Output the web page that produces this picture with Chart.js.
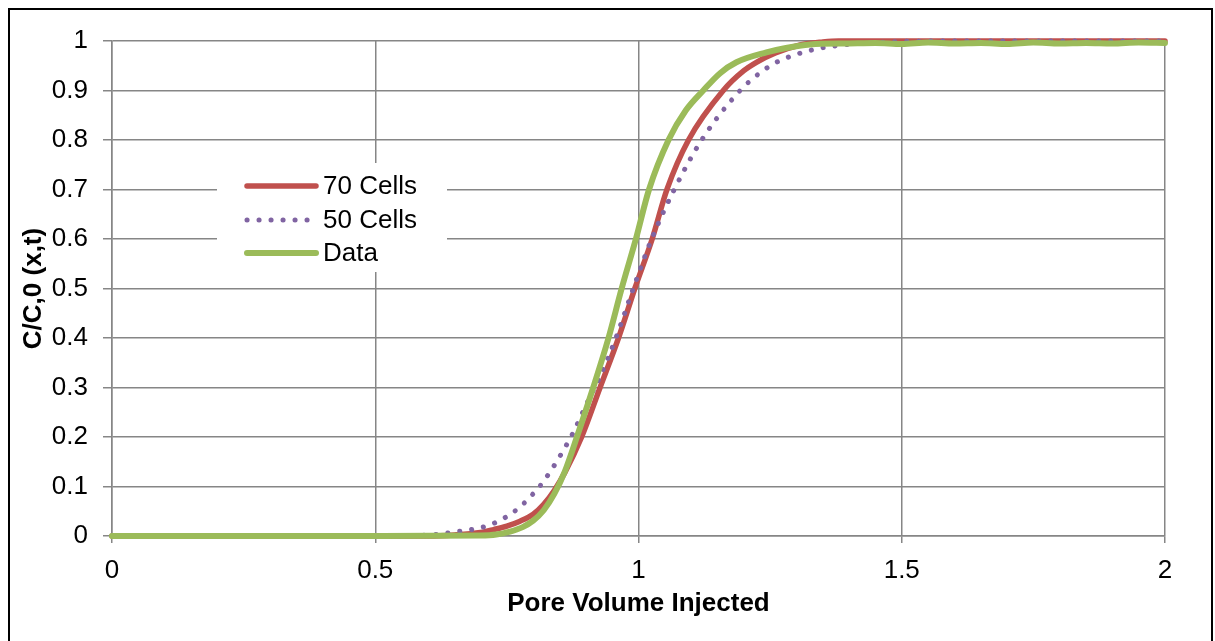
<!DOCTYPE html>
<html>
<head>
<meta charset="utf-8">
<script src="https://cdn.jsdelivr.net/npm/chart.js@4"></script>
<style>
  body { margin: 0; background: #fff; }
  canvas { display: block; }
</style>
</head>
<body>
<canvas id="chart" width="1215" height="641"></canvas>
<script>
const xTickLabels = ["0", "0.5", "1", "1.5", "2"];
const yTickLabels = ["0", "0.1", "0.2", "0.3", "0.4", "0.5", "0.6", "0.7", "0.8", "0.9", "1"];

// 70 Cells model
const cells70X = [0, 0.6, 0.65, 0.7, 0.725, 0.75, 0.775, 0.8, 0.82, 0.84, 0.86, 0.892, 0.927, 0.962, 0.993, 1.026, 1.054, 1.095, 1.161, 1.2, 1.224, 1.26, 1.307, 1.35, 1.38, 2];
const cells70Y = [0, 0, 0.002, 0.007, 0.013, 0.02, 0.03, 0.044, 0.064, 0.092, 0.128, 0.2, 0.3, 0.4, 0.5, 0.6, 0.7, 0.8, 0.9, 0.94, 0.957, 0.976, 0.992, 0.998, 1, 1];

// 50 Cells model
const cells50X = [0, 0.55, 0.6, 0.625, 0.648, 0.67, 0.693, 0.714, 0.734, 0.754, 0.772, 0.788, 0.803, 0.818, 0.836, 0.854, 0.876, 0.902, 0.926, 0.957, 0.99, 1.025, 1.068, 1.12, 1.193, 1.23, 1.262, 1.3, 1.338, 1.38, 1.42, 1.5, 1.6, 2];
const cells50Y = [0, 0, 0.002, 0.004, 0.008, 0.011, 0.015, 0.021, 0.03, 0.042, 0.056, 0.072, 0.089, 0.108, 0.136, 0.167, 0.209, 0.268, 0.32, 0.4, 0.5, 0.6, 0.7, 0.8, 0.9, 0.935, 0.957, 0.973, 0.984, 0.991, 0.995, 0.999, 1, 1];

// measured data
const dataX = [0, 0.5, 0.7, 0.73, 0.756, 0.78, 0.8, 0.82, 0.84, 0.86, 0.883, 0.914, 0.943, 0.968, 0.995, 1.02, 1.057, 1.09, 1.123, 1.155, 1.186, 1.243, 1.28, 1.326, 1.4, 1.45, 1.5, 1.55, 1.6, 1.65, 1.7, 1.75, 1.8, 1.85, 1.9, 1.95, 2];
const dataY = [0, 0, 0.001, 0.003, 0.009, 0.018, 0.031, 0.052, 0.085, 0.13, 0.2, 0.3, 0.4, 0.5, 0.6, 0.7, 0.8, 0.86, 0.9, 0.935, 0.957, 0.977, 0.986, 0.993, 0.995, 0.996, 0.994, 0.997, 0.995, 0.996, 0.994, 0.997, 0.995, 0.996, 0.995, 0.997, 0.996];

const FONT = "'Liberation Sans', Arial, sans-serif";
const GRID = "#868686";

function toPoints(xs, ys) {
    return xs.map((x, i) => ({ x: x, y: ys[i] }));
}

// legend drawn inside the plot, on a white box
const insideLegend = {
    id: "insideLegend",
    beforeDatasetsDraw(chart) {
        const c = chart.ctx;
        c.save();
        c.fillStyle = "#fff";
        c.fillRect(217, 163, 230, 109);
        const rows = [186, 220, 253];
        chart.data.datasets.forEach((ds, i) => {
            const y = rows[i];
            c.strokeStyle = ds.borderColor;
            c.lineWidth = ds.borderWidth;
            c.lineCap = "round";
            c.setLineDash(ds.borderDash || []);
            c.beginPath();
            c.moveTo(247, y);
            c.lineTo(ds.borderDash ? 312 : 316, y);
            c.stroke();
            c.setLineDash([]);
            c.fillStyle = "#000";
            c.font = "26px " + FONT;
            c.textBaseline = "middle";
            c.textAlign = "left";
            c.fillText(ds.label, 323, y + 1);
        });
        c.restore();
    }
};

const frame = {
    id: "frame",
    afterDraw(chart) {
        const c = chart.ctx;
        c.save();
        c.strokeStyle = "#000";
        c.lineWidth = 2;
        c.strokeRect(9, 9, 1203, 700);
        c.restore();
    }
};

const ctx = document.getElementById("chart");
const chart = new Chart(ctx, {
    type: "line",
    data: {
        datasets: [
            {
                label: "70 Cells",
                data: toPoints(cells70X, cells70Y),
                borderColor: "#C0504D",
                borderWidth: 5.5,
                pointRadius: 0,
                cubicInterpolationMode: "monotone",
                borderCapStyle: "round",
                borderJoinStyle: "round",
                clip: 10,
                order: 3,
            },
            {
                label: "50 Cells",
                data: toPoints(cells50X, cells50Y),
                borderColor: "#8064A2",
                borderWidth: 5,
                borderDash: [0.1, 11.9],
                pointRadius: 0,
                cubicInterpolationMode: "monotone",
                borderCapStyle: "round",
                borderJoinStyle: "round",
                clip: 10,
                order: 2,
            },
            {
                label: "Data",
                data: toPoints(dataX, dataY),
                borderColor: "#9BBB59",
                borderWidth: 6,
                pointRadius: 0,
                cubicInterpolationMode: "monotone",
                borderCapStyle: "round",
                borderJoinStyle: "round",
                clip: 10,
                order: 1,
            },
        ],
    },
    options: {
        responsive: false,
        animation: false,
        layout: { padding: { top: 41, right: 50, left: 0, bottom: 0 } },
        plugins: {
            legend: { display: false },
            tooltip: { enabled: false },
        },
        scales: {
            x: {
                type: "linear",
                min: 0,
                max: 2,
                afterFit: (scale) => { scale.height = 105; },
                ticks: {
                    stepSize: 0.5,
                    padding: 12,
                    color: "#000",
                    font: { family: FONT, size: 26 },
                    callback: (v, i) => xTickLabels[i],
                },
                grid: { color: GRID, lineWidth: 1.5, tickLength: 7 },
                border: { color: GRID, width: 1.5 },
                title: {
                    display: true,
                    text: "Pore Volume Injected",
                    color: "#000",
                    font: { family: FONT, size: 26, weight: "bold" },
                    padding: { top: 0, bottom: 22 },
                },
            },
            y: {
                min: 0,
                max: 1,
                afterFit: (scale) => { scale.width = 112; },
                ticks: {
                    stepSize: 0.1,
                    padding: 15,
                    color: "#000",
                    font: { family: FONT, size: 26 },
                    callback: (v, i) => yTickLabels[i],
                },
                grid: { color: GRID, lineWidth: 1.5, tickLength: 9 },
                border: { color: GRID, width: 1.5 },
                title: {
                    display: true,
                    text: "C/C,0 (x,t)",
                    color: "#000",
                    font: { family: FONT, size: 26, weight: "bold" },
                    padding: { top: 18, bottom: 0 },
                },
            },
        },
    },
    plugins: [insideLegend, frame],
});
</script>
</body>
</html>
